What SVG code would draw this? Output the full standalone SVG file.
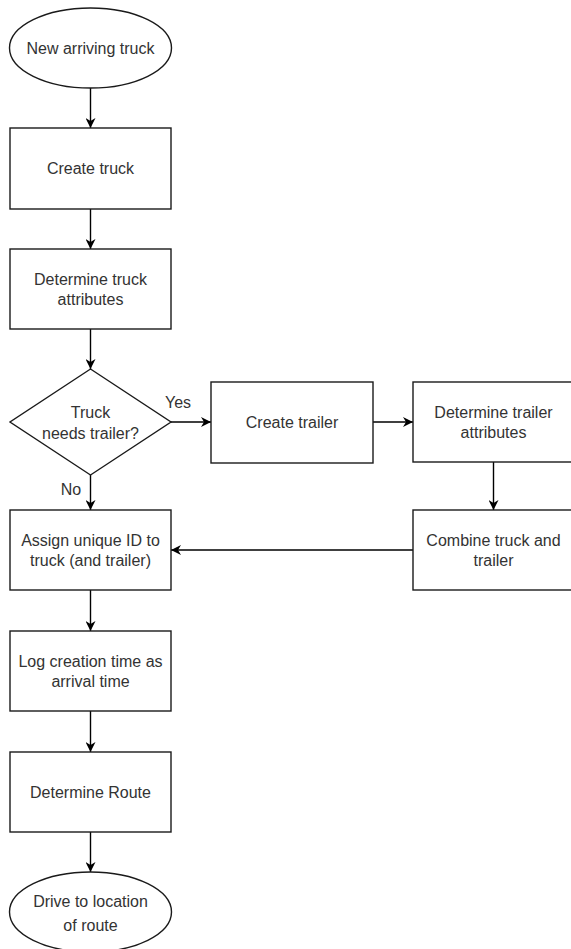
<svg xmlns="http://www.w3.org/2000/svg" width="571" height="949" viewBox="0 0 571 949">
  <style>
    .shape { fill: #ffffff; stroke: #1a1a1a; stroke-width: 1.4; }
    .edge { fill: none; stroke: #000000; stroke-width: 1.4; }
    text { font-family: "Liberation Sans", Arial, Helvetica, sans-serif; font-size: 16px; fill: #333333; text-anchor: middle; }
  </style>
  <defs>
    <marker id="arrow" viewBox="0 0 10 10" refX="10" refY="5" markerWidth="10" markerHeight="10" markerUnits="userSpaceOnUse" orient="auto">
      <path d="M0,0 L10,5 L0,10 L3,5 Z" fill="#000000"/>
    </marker>
  </defs>
  <rect x="0" y="0" width="571" height="949" fill="#ffffff"/>

  <g id="connectors">
    <path class="edge" d="M90.5,88 L90.5,128" marker-end="url(#arrow)"/>
    <path class="edge" d="M90.5,209 L90.5,249" marker-end="url(#arrow)"/>
    <path class="edge" d="M90.5,329 L90.5,369" marker-end="url(#arrow)"/>
    <path class="edge" d="M171,422 L211,422" marker-end="url(#arrow)"/>
    <path class="edge" d="M373,422 L413,422" marker-end="url(#arrow)"/>
    <path class="edge" d="M493.5,462 L493.5,510" marker-end="url(#arrow)"/>
    <path class="edge" d="M413,550 L171,550" marker-end="url(#arrow)"/>
    <path class="edge" d="M90.5,475 L90.5,510" marker-end="url(#arrow)"/>
    <path class="edge" d="M90.5,590 L90.5,631" marker-end="url(#arrow)"/>
    <path class="edge" d="M90.5,711 L90.5,752" marker-end="url(#arrow)"/>
    <path class="edge" d="M90.5,832 L90.5,872" marker-end="url(#arrow)"/>
    <text x="178" y="408">Yes</text>
    <text x="71" y="495">No</text>
  </g>

  <g id="start">
    <ellipse class="shape" cx="90.5" cy="48" rx="81" ry="40"/>
    <text x="90.5" y="53.5">New arriving truck</text>
  </g>

  <g id="create-truck">
    <rect class="shape" x="10" y="128" width="161" height="81"/>
    <text x="90.5" y="174">Create truck</text>
  </g>

  <g id="truck-attributes">
    <rect class="shape" x="10" y="249" width="161" height="80"/>
    <text x="90.5" y="285">Determine truck</text>
    <text x="90.5" y="305">attributes</text>
  </g>

  <g id="needs-trailer">
    <polygon class="shape" points="90.5,369 171,422 90.5,475 10,422"/>
    <text x="90.5" y="418">Truck</text>
    <text x="90.5" y="438.5">needs trailer?</text>
  </g>

  <g id="create-trailer">
    <rect class="shape" x="211" y="382" width="162" height="81"/>
    <text x="292" y="428">Create trailer</text>
  </g>

  <g id="trailer-attributes">
    <rect class="shape" x="413" y="382" width="161" height="80"/>
    <text x="493.5" y="418">Determine trailer</text>
    <text x="493.5" y="438">attributes</text>
  </g>

  <g id="combine">
    <rect class="shape" x="413" y="510" width="161" height="80"/>
    <text x="493.5" y="546">Combine truck and</text>
    <text x="493.5" y="566">trailer</text>
  </g>

  <g id="assign-id">
    <rect class="shape" x="10" y="510" width="161" height="80"/>
    <text x="90.5" y="546">Assign unique ID to</text>
    <text x="90.5" y="565.5">truck (and trailer)</text>
  </g>

  <g id="log-time">
    <rect class="shape" x="10" y="631" width="161" height="80"/>
    <text x="90.5" y="667">Log creation time as</text>
    <text x="90.5" y="687">arrival time</text>
  </g>

  <g id="route">
    <rect class="shape" x="10" y="752" width="161" height="80"/>
    <text x="90.5" y="797.5">Determine Route</text>
  </g>

  <g id="drive">
    <ellipse class="shape" cx="90.5" cy="912" rx="81" ry="40"/>
    <text x="90.5" y="907">Drive to location</text>
    <text x="90.5" y="931">of route</text>
  </g>
</svg>
